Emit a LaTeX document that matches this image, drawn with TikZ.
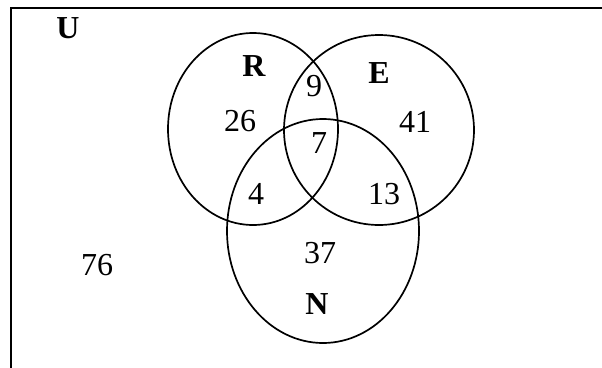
\documentclass[tikz,border=0pt]{standalone}
\usepackage{fontspec}
\setmainfont{Liberation Serif}
\begin{document}
\begin{tikzpicture}[x=1pt,y=-1pt,
  setline/.style={line width=1.7pt},
  frameline/.style={line width=2.2pt},
  num/.style={inner sep=0pt,font=\fontsize{32}{36}\selectfont},
  lab/.style={inner sep=0pt,font=\fontsize{32}{36}\selectfont\bfseries}]
\useasboundingbox (0,0) rectangle (602,367);
\clip (0,0) rectangle (602,367);
\fill[white] (0,0) rectangle (602,367);
% universe frame (only top and left edges visible)
\coordinate (ubl) at (11,400);
\coordinate (utl) at (11,8);
\coordinate (utr) at (640,8);
\draw[frameline] (ubl) -- (utl) -- (utr);
% sets
\draw[setline] (253,129) ellipse [x radius=85, y radius=96];
\draw[setline] (379,130) ellipse [x radius=95, y radius=95];
\draw[setline] (323,231) ellipse [x radius=96, y radius=112];
% labels
\node[lab] (U) at (68,28) {U};
\node[lab] (R) at (254,66) {R};
\node[lab] (E) at (379,73) {E};
\node[lab] (N) at (317,304) {N};
% counts
\node[num] (n26) at (240,121) {26};
\node[num] (n9) at (314,86) {9};
\node[num] (n41) at (415,122) {41};
\node[num] (n7) at (319,143) {7};
\node[num] (n4) at (256,194) {4};
\node[num] (n13) at (384,194) {13};
\node[num] (n37) at (320,253) {37};
\node[num] (n76) at (97,265) {76};
\end{tikzpicture}
\end{document}
